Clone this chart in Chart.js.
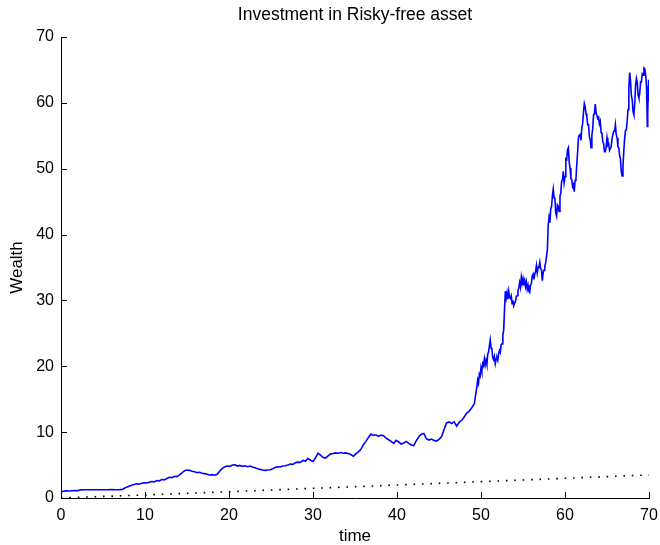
<!DOCTYPE html>
<html>
<head>
<meta charset="utf-8">
<title>Investment in Risky-free asset</title>
<script src="https://cdn.jsdelivr.net/npm/chart.js@4/dist/chart.umd.min.js"></script>
<style>
  html, body { margin: 0; padding: 0; background: #ffffff; }
  #wrap { width: 660px; height: 545px; }
</style>
</head>
<body>
<div id="wrap"><canvas id="chart" width="660" height="545"></canvas></div>
<script>
// Simulated wealth path of the risky portfolio (time, wealth)
const timeSteps = [
  0, 0.3, 0.6, 1.0, 1.3, 1.7, 2.0, 2.4, 2.8, 3.5, 4.5, 5.5, 6.0, 6.5, 7.0, 7.3,
  7.5, 7.8, 8.1, 8.4, 8.7, 9.0, 9.3, 9.6, 9.9, 10.2, 10.5, 10.8, 11.1, 11.4, 11.7,
  12.0, 12.3, 12.6, 12.9, 13.2, 13.5, 13.8, 14.1, 14.4, 14.7, 15.0, 15.3, 15.6,
  15.9, 16.2, 16.5, 16.8, 17.1, 17.4, 17.7, 18.0, 18.3, 18.6, 18.9, 19.2, 19.5,
  19.8, 20.1, 20.4, 20.7, 21.0, 21.3, 21.6, 21.9, 22.2, 22.5, 22.8, 23.1, 23.4,
  23.7, 24.0, 24.3, 24.6, 24.9, 25.2, 25.5, 25.8, 26.1, 26.4, 26.7, 27.0, 27.3,
  27.6, 27.9, 28.2, 28.5, 28.8, 29.1, 29.4, 29.7, 30.0, 30.3, 30.6, 30.9, 31.2,
  31.5, 31.8, 32.1, 32.4, 32.7, 33.0, 33.3, 33.6, 33.9, 34.2, 34.5, 34.8, 35.1,
  35.4, 35.7, 36.0, 36.3, 36.6, 36.9, 37.2, 37.5, 37.8, 38.1, 38.4, 38.7, 39.0,
  39.3, 39.6, 39.9, 40.2, 40.5, 40.8, 41.1, 41.4, 41.7, 42.0, 42.3, 42.6, 42.9,
  43.2, 43.5, 43.8, 44.1, 44.4, 44.7, 45.0, 45.3, 45.6, 45.9, 46.2, 46.5, 46.8,
  47.1, 47.4, 47.7, 48.0, 48.3, 48.6, 48.9, 49.2,
  49.5, 49.6, 49.7, 49.8, 49.9, 50.0, 50.1, 50.2, 50.3, 50.4, 50.5, 50.6, 50.7,
  50.8, 50.9, 51.0, 51.1, 51.2, 51.3, 51.4, 51.5, 51.6, 51.7, 51.8, 51.9, 52.0,
  52.1, 52.2, 52.3, 52.4, 52.5, 52.6, 52.7, 52.8, 52.9, 53.0, 53.1, 53.2, 53.3,
  53.4, 53.5, 53.6, 53.7, 53.8, 53.9, 54.0, 54.1, 54.2, 54.3, 54.4, 54.5, 54.6,
  54.7, 54.8, 54.9, 55.0, 55.1, 55.2, 55.3, 55.4, 55.5, 55.6, 55.7, 55.8, 55.9,
  56.0, 56.1, 56.2, 56.3, 56.4, 56.5, 56.6, 56.7, 56.8, 56.9, 57.0, 57.1, 57.2,
  57.3, 57.4, 57.5, 57.6, 57.7, 57.8, 57.9, 58.0, 58.1, 58.2, 58.3, 58.4, 58.5,
  58.6, 58.7, 58.8, 58.9, 59.0, 59.1, 59.2, 59.3, 59.4, 59.5, 59.6, 59.7, 59.8,
  59.9, 60.0, 60.1, 60.2, 60.3, 60.4, 60.5, 60.6, 60.7, 60.8, 60.9, 61.0, 61.1,
  61.2, 61.3, 61.4, 61.5, 61.6, 61.7, 61.8, 61.9, 62.0, 62.1, 62.2, 62.3, 62.4,
  62.5, 62.6, 62.7, 62.8, 62.9, 63.0, 63.1, 63.2, 63.3, 63.4, 63.5, 63.6, 63.7,
  63.8, 63.9, 64.0, 64.1, 64.2, 64.3, 64.4, 64.5, 64.6, 64.7, 64.8, 64.9, 65.0,
  65.1, 65.2, 65.3, 65.4, 65.5, 65.6, 65.7, 65.8, 65.9, 66.0, 66.1, 66.2, 66.3,
  66.4, 66.5, 66.6, 66.7, 66.8, 66.9, 67.0, 67.1, 67.2, 67.3, 67.4, 67.5, 67.6,
  67.7, 67.8, 67.9, 68.0, 68.1, 68.2, 68.3, 68.4, 68.5, 68.6, 68.7, 68.8, 68.9,
  69.0, 69.1, 69.2, 69.3, 69.4, 69.5, 69.6, 69.7, 69.75, 69.8, 69.85, 69.9,
  69.95, 70.0
];
const riskyWealth = [
  0.95, 1.02, 1.08, 1.06, 1.1, 1.14, 1.12, 1.24, 1.26, 1.25, 1.25, 1.26, 1.27, 1.25, 1.27, 1.3,
  1.45, 1.65, 1.8, 1.95, 2.05, 2.15, 2.1, 2.25, 2.3, 2.28, 2.4, 2.5, 2.45, 2.65, 2.6,
  2.8, 2.75, 2.95, 3.15, 3.1, 3.3, 3.25, 3.5, 3.8, 4.15, 4.25, 4.2, 4.05,
  4.0, 3.85, 3.9, 3.75, 3.7, 3.6, 3.5, 3.55, 3.45, 3.6, 4.1, 4.5, 4.75,
  4.85, 4.8, 5.0, 5.05, 4.85, 4.95, 4.8, 4.9, 4.75, 4.85, 4.7, 4.6, 4.45,
  4.35, 4.25, 4.2, 4.25, 4.3, 4.45, 4.65, 4.75, 4.7, 4.85, 4.9, 5.0, 5.15,
  5.1, 5.35, 5.45, 5.4, 5.7, 5.6, 6.0, 5.75, 5.55, 6.1, 6.8, 6.5, 6.15,
  6.05, 6.4, 6.7, 6.75, 6.85, 6.8, 6.9, 6.8, 6.85, 6.75, 6.6, 6.35, 6.7,
  7.0, 7.4, 8.1, 8.6, 9.2, 9.7, 9.5, 9.6, 9.35, 9.55, 9.45, 9.1, 8.85,
  8.6, 8.3, 8.75, 8.5, 8.2, 8.35, 8.6, 8.3, 8.05, 7.95, 8.7, 9.3, 9.7,
  9.8, 9.0, 8.8, 8.95, 8.75, 8.65, 8.9, 9.3, 10.4, 11.4, 11.55, 11.3, 11.6,
  10.9, 11.5, 11.8, 12.3, 12.9, 13.2, 13.7, 14.3,
  16.8, 17.9, 17.4, 18.8, 18.5, 19.8, 19.2, 20.4, 20.1, 21.1, 20.2, 20.9, 20.3,
  21.8, 22.2, 23.1, 24.0, 22.8, 22.5, 21.3, 21.0, 21.5, 20.4, 21.1, 21.3, 20.9,
  21.9, 22.4, 22.1, 23.3, 23.4, 24.7, 25.5, 28.6, 31.4, 30.4, 31.2, 30.2, 31.4,
  30.5, 30.3, 30.7, 29.5, 30.0, 29.2, 29.6, 29.8, 30.6, 30.7, 31.5, 31.9, 32.7,
  32.0, 33.5, 32.6, 33.3, 32.3, 33.0, 32.1, 32.8, 31.7, 32.3, 31.4, 31.2, 32.3,
  32.6, 33.7, 34.0, 33.2, 34.0, 34.4, 35.3, 34.2, 35.0, 35.1, 35.8, 34.8, 34.7,
  33.0, 34.2, 34.6, 35.3, 35.7, 36.7, 37.7, 41.5, 42.6, 41.8, 43.9, 44.2, 45.9,
  46.9, 45.6, 45.4, 43.3, 42.8, 44.5, 44.3, 43.5, 45.8, 46.3, 48.1, 48.3, 49.6,
  47.9, 48.8, 51.5, 51.4, 52.9, 53.2, 51.0, 50.1, 48.5, 48.4, 47.3, 47.6, 46.5,
  48.2, 48.4, 50.6, 52.5, 54.7, 55.1, 55.2, 54.3, 56.2, 56.8, 58.6, 59.9, 59.4,
  58.4, 57.9, 56.7, 56.7, 54.9, 54.4, 53.2, 55.1, 56.1, 58.2, 58.3, 59.8, 58.5,
  58.5, 57.6, 57.8, 56.8, 57.2, 55.5, 55.3, 54.1, 53.8, 52.6, 52.6, 53.3, 54.7,
  53.6, 53.8, 52.8, 53.1, 53.3, 54.6, 54.6, 55.7, 55.7, 56.7, 55.2, 54.7, 53.3,
  53.2, 52.0, 51.5, 49.6, 48.9, 50.3, 52.7, 54.6, 55.8, 55.9, 57.2, 59.0, 62.2,
  64.6, 63.3, 61.1, 60.5, 58.7, 58.2, 59.8, 62.6, 63.7, 63.1, 61.2, 60.7, 61.5,
  63.2, 63.2, 64.4, 64.2, 65.3, 65.2, 64.3, 62.6, 60.0, 56.4, 58.5, 61.2,
  63.5, 60.2
];

// Risk-free asset wealth, read at every 10 time units
const riskFreeTimes = [0, 10, 20, 30, 40, 50, 60, 70];
const riskFreeWealth = [0.02, 0.46, 0.96, 1.47, 1.97, 2.48, 2.99, 3.5];

// Axis ticks
const xTickValues = [0, 10, 20, 30, 40, 50, 60, 70];
const yTickValues = [0, 10, 20, 30, 40, 50, 60, 70];

const chartTitle = 'Investment in Risky-free asset';

const FONT = '"Liberation Sans", Arial, Helvetica, sans-serif';

const toPoints = (xs, ys) => xs.map((x, i) => ({ x: x, y: ys[i] }));

// Tick marks drawn inside the axes box
const inwardTicks = {
  id: 'inwardTicks',
  afterDatasetsDraw(chart) {
    const { ctx, chartArea, scales } = chart;
    const len = 6;
    ctx.save();
    ctx.strokeStyle = '#000000';
    ctx.lineWidth = 1;
    ctx.beginPath();
    scales.x.ticks.forEach(t => {
      const px = Math.round(scales.x.getPixelForValue(t.value)) + 0.5;
      ctx.moveTo(px, chartArea.bottom);
      ctx.lineTo(px, chartArea.bottom - len);
    });
    scales.y.ticks.forEach(t => {
      const py = Math.round(scales.y.getPixelForValue(t.value)) + 0.5;
      ctx.moveTo(chartArea.left, py);
      ctx.lineTo(chartArea.left + len, py);
    });
    ctx.stroke();
    ctx.restore();
  }
};

// Title centred over the plotting area rather than the whole canvas
const axesTitle = {
  id: 'axesTitle',
  afterDraw(chart) {
    const { ctx, chartArea } = chart;
    ctx.save();
    ctx.fillStyle = '#000000';
    ctx.font = '17.5px ' + FONT;
    ctx.textAlign = 'center';
    ctx.textBaseline = 'middle';
    ctx.fillText(chartTitle, (chartArea.left + chartArea.right) / 2, 15);
    ctx.restore();
  }
};

// Keep the plotting box fixed: no extra room reserved for edge tick labels
const noEdgePadding = (scale) => {
  scale.paddingLeft = 0;
  scale.paddingRight = 0;
  scale.paddingTop = 0;
  scale.paddingBottom = 0;
};

new Chart(document.getElementById('chart'), {
  type: 'line',
  data: {
    datasets: [
      {
        label: 'Risky',
        data: toPoints(timeSteps, riskyWealth),
        borderColor: '#0000ff',
        borderWidth: 1.6,
        pointRadius: 0,
        tension: 0,
        fill: false
      },
      {
        label: 'Risk-free',
        data: toPoints(riskFreeTimes, riskFreeWealth),
        borderColor: '#000000',
        borderWidth: 1.6,
        borderDash: [1.6, 6.8],
        pointRadius: 0,
        tension: 0,
        fill: false
      }
    ]
  },
  options: {
    responsive: false,
    devicePixelRatio: 1,
    animation: false,
    events: [],
    layout: { padding: { left: 0, right: 11, top: 37, bottom: 0 } },
    plugins: {
      legend: { display: false },
      tooltip: { enabled: false },
      title: { display: false }
    },
    scales: {
      x: {
        type: 'linear',
        min: 0,
        max: 70,
        afterBuildTicks(scale) { scale.ticks = xTickValues.map(v => ({ value: v })); },
        afterFit(scale) { scale.height = 47; noEdgePadding(scale); },
        grid: { display: false, drawTicks: false },
        border: { display: true, color: '#000000', width: 1 },
        ticks: {
          color: '#000000',
          padding: 8,
          maxRotation: 0,
          font: { family: FONT, size: 16 }
        },
        title: {
          display: true,
          text: 'time',
          color: '#000000',
          font: { family: FONT, size: 17, lineHeight: 1 },
          padding: { top: 0, bottom: 0 }
        }
      },
      y: {
        type: 'linear',
        min: 0,
        max: 70,
        afterBuildTicks(scale) { scale.ticks = yTickValues.map(v => ({ value: v })); },
        afterFit(scale) { scale.width = 61; noEdgePadding(scale); },
        grid: { display: false, drawTicks: false },
        border: { display: true, color: '#000000', width: 1 },
        ticks: {
          color: '#000000',
          padding: 7,
          font: { family: FONT, size: 16 }
        },
        title: {
          display: true,
          text: 'Wealth',
          color: '#000000',
          font: { family: FONT, size: 17, lineHeight: 1 },
          padding: { top: 8.5, bottom: 0 }
        }
      }
    }
  },
  plugins: [inwardTicks, axesTitle]
});
</script>
</body>
</html>
